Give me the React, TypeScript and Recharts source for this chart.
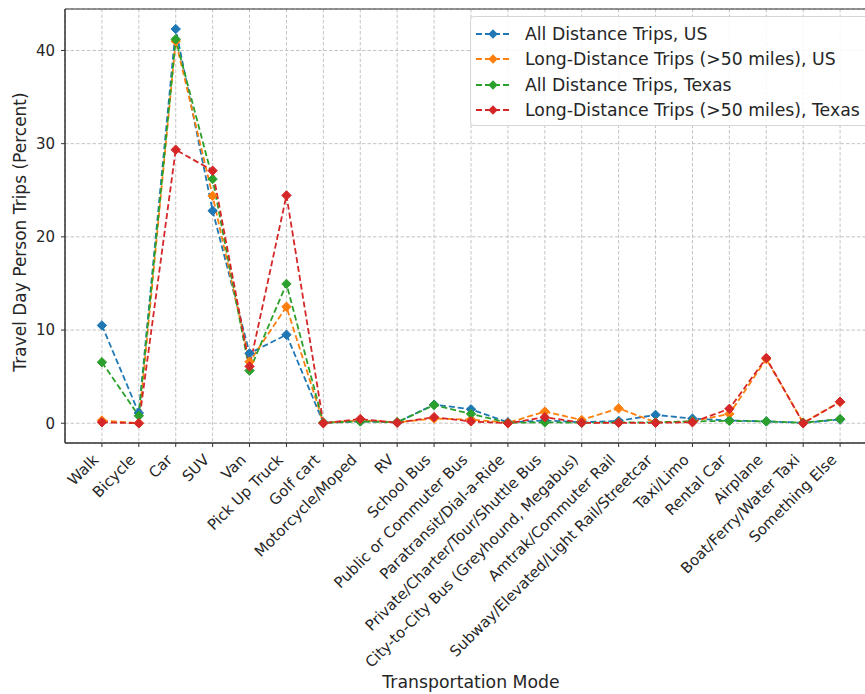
import { CartesianGrid, Line, LineChart, ReferenceArea, XAxis, YAxis } from 'recharts';

const categories = [
  'Walk',
  'Bicycle',
  'Car',
  'SUV',
  'Van',
  'Pick Up Truck',
  'Golf cart',
  'Motorcycle/Moped',
  'RV',
  'School Bus',
  'Public or Commuter Bus',
  'Paratransit/Dial-a-Ride',
  'Private/Charter/Tour/Shuttle Bus',
  'City-to-City Bus (Greyhound, Megabus)',
  'Amtrak/Commuter Rail',
  'Subway/Elevated/Light Rail/Streetcar',
  'Taxi/Limo',
  'Rental Car',
  'Airplane',
  'Boat/Ferry/Water Taxi',
  'Something Else',
];

const allUS = [10.5, 1.1, 42.3, 22.8, 7.5, 9.5, 0.05, 0.2, 0.1, 2.0, 1.5, 0.1, 0.3, 0.1, 0.25, 0.9, 0.5, 0.3, 0.2, 0.05, 0.4];
const longUS = [0.3, 0.0, 41.0, 24.4, 6.6, 12.5, 0.05, 0.3, 0.1, 0.5, 0.4, 0.05, 1.25, 0.35, 1.6, 0.1, 0.2, 1.0, 6.9, 0.05, 2.3];
const allTX = [6.55, 0.8, 41.2, 26.2, 5.65, 14.95, 0.05, 0.2, 0.1, 1.95, 1.0, 0.05, 0.1, 0.05, 0.1, 0.1, 0.2, 0.25, 0.2, 0.05, 0.45];
const longTX = [0.1, 0.0, 29.35, 27.1, 6.1, 24.45, 0.0, 0.45, 0.05, 0.65, 0.2, 0.0, 0.65, 0.05, 0.05, 0.05, 0.1, 1.55, 7.0, 0.0, 2.3];

const yTicks = [0, 10, 20, 30, 40];

const series = [
  { key: 'allUS', name: 'All Distance Trips, US', color: '#1f77b4' },
  { key: 'longUS', name: 'Long-Distance Trips (>50 miles), US', color: '#ff7f0e' },
  { key: 'allTX', name: 'All Distance Trips, Texas', color: '#2ca02c' },
  { key: 'longTX', name: 'Long-Distance Trips (>50 miles), Texas', color: '#d62728' },
];

const data = categories.map((name, i) => ({
  idx: i,
  name,
  allUS: allUS[i],
  longUS: longUS[i],
  allTX: allTX[i],
  longTX: longTX[i],
}));

const FONT = '"DejaVu Sans", sans-serif';
const Y_MIN = -2.12;
const Y_MAX = 44.45;

function diamondDot(color: string) {
  return (props: any) => {
    const { cx, cy, index } = props;
    if (cx == null || cy == null) return <g key={`d-${index}`} />;
    const r = 4.7;
    return (
      <polygon
        key={`d-${color}-${index}`}
        points={`${cx},${cy - r} ${cx + r},${cy} ${cx},${cy + r} ${cx - r},${cy}`}
        fill={color}
        stroke={color}
        strokeWidth={1}
      />
    );
  };
}

function XTick(props: any) {
  const { x, y, payload } = props;
  const label = categories[payload.value] ?? '';
  return (
    <g transform={`translate(${x - 2.5},${y + 9.8})`}>
      <text textAnchor="end" transform="rotate(-45)" fontSize={15} fontFamily={FONT} fill="#262626">
        {label}
      </text>
    </g>
  );
}

function LegendBox() {
  return (
    <div
      style={{
        position: 'absolute',
        left: 470,
        top: 16,
        width: 402,
        height: 110,
        border: '1px solid #d6d6d6',
        borderRadius: 4,
        background: 'rgba(255,255,255,0.85)',
        paddingTop: 4,
        boxSizing: 'border-box',
      }}
    >
      {series.map((s) => (
        <div key={s.key} style={{ height: 25.5, display: 'flex', alignItems: 'center' }}>
          <svg width={54} height={20} style={{ flex: 'none' }}>
            <line x1={5} y1={10} x2={40} y2={10} stroke={s.color} strokeWidth={1.8} strokeDasharray="6 3" />
            <polygon points="22,5.3 26.7,10 22,14.7 17.3,10" fill={s.color} />
          </svg>
          <span style={{ fontFamily: FONT, fontSize: 17.3, color: '#262626', whiteSpace: 'nowrap' }}>{s.name}</span>
        </div>
      ))}
    </div>
  );
}

export default function App() {
  return (
    <div
      style={{
        position: 'absolute',
        left: 0,
        top: 0,
        width: 865,
        height: 694,
        overflow: 'hidden',
        background: '#fff',
      }}
    >
      <LineChart width={880} height={694} data={data} margin={{ top: 9, right: 3, left: 0, bottom: 0 }}>
        <CartesianGrid stroke="#c4c4c4" strokeDasharray="3.5 2" />
        <XAxis
          dataKey="idx"
          type="number"
          domain={[-1, 21]}
          ticks={categories.map((_, i) => i)}
          interval={0}
          height={251}
          tick={<XTick />}
          tickSize={4}
          tickMargin={4}
          stroke="#333"
        />
        <YAxis
          type="number"
          domain={[Y_MIN, Y_MAX]}
          ticks={yTicks}
          allowDataOverflow
          width={65}
          tickSize={4}
          tickMargin={6}
          stroke="#333"
          tick={{ fontSize: 15, fontFamily: FONT, fill: '#262626' }}
        />
        <ReferenceArea x1={-1} x2={21} y1={Y_MIN} y2={Y_MAX} fill="none" stroke="#333" strokeWidth={1} ifOverflow="visible" />
        {series.map((s) => (
          <Line
            key={s.key}
            type="linear"
            dataKey={s.key}
            name={s.name}
            stroke={s.color}
            strokeWidth={1.8}
            strokeDasharray="6 3"
            dot={diamondDot(s.color)}
            activeDot={false}
            isAnimationActive={false}
          />
        ))}
      </LineChart>
      <div
        style={{
          position: 'absolute',
          left: 20,
          top: 232,
          transform: 'translate(-50%, -50%) rotate(-90deg)',
          fontFamily: FONT,
          fontSize: 17,
          color: '#262626',
          whiteSpace: 'nowrap',
        }}
      >
        Travel Day Person Trips (Percent)
      </div>
      <div
        style={{
          position: 'absolute',
          left: 471,
          top: 672,
          transform: 'translateX(-50%)',
          fontFamily: FONT,
          fontSize: 17.3,
          lineHeight: '20px',
          color: '#262626',
          whiteSpace: 'nowrap',
        }}
      >
        Transportation Mode
      </div>
      <LegendBox />
    </div>
  );
}
